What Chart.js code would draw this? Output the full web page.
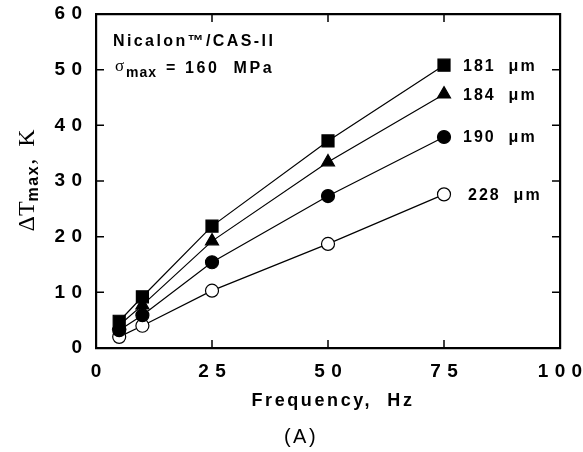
<!DOCTYPE html>
<html>
<head>
<meta charset="utf-8">
<script src="https://cdn.jsdelivr.net/npm/chart.js@4.4.0/dist/chart.umd.min.js"></script>
<style>
  html, body { margin: 0; padding: 0; background: #fff; }
  #wrap { width: 583px; height: 452px; }
</style>
</head>
<body>
<div id="wrap"><canvas id="chart" width="583" height="452"></canvas></div>
<script>
// DATA
const frequency = [5, 10, 25, 50, 75];
const dT181 = [4.8, 9.2, 21.9, 37.2, 50.8];
const dT184 = [4.1, 7.7, 19.2, 33.4, 45.6];
const dT190 = [3.2, 5.9, 15.4, 27.3, 37.9];
const dT228 = [2.0, 4.0, 10.3, 18.7, 27.6];
const seriesLabels = ["181  μm", "184  μm", "190  μm", "228  μm"];
const xTicks = [0, 25, 50, 75, 100];
const yTicks = [0, 10, 20, 30, 40, 50, 60];

const SANS = "'Liberation Sans', Arial, sans-serif";
const SERIF = "'Liberation Serif', 'Times New Roman', serif";

function pts(values) {
  return frequency.map((f, i) => ({ x: f, y: values[i] }));
}

function spaced(v) {
  return String(v).split("").join("\u2004");
}

function series(label, values, style, radius, fill) {
  return {
    label,
    data: pts(values),
    borderColor: "#000",
    borderWidth: 1.2,
    pointStyle: style,
    pointRadius: radius,
    pointBackgroundColor: fill,
    pointBorderColor: "#000",
    pointBorderWidth: 1.2,
    tension: 0,
  };
}

// keep the plot frame where the reference has it
function fixBox(size, key) {
  return (s) => {
    s[key] = size;
    s.paddingTop = 0;
    s.paddingBottom = 0;
    s.paddingLeft = 0;
    s.paddingRight = 0;
  };
}

// inward tick marks on all four sides
const inwardTicks = {
  id: "inwardTicks",
  afterDraw(chart) {
    const { ctx, chartArea: a, scales } = chart;
    const len = 8;
    ctx.save();
    ctx.strokeStyle = "#000";
    ctx.lineWidth = 1.5;
    ctx.beginPath();
    xTicks.slice(1, -1).forEach((v) => {
      const px = scales.x.getPixelForValue(v);
      ctx.moveTo(px, a.bottom);
      ctx.lineTo(px, a.bottom - len);
      ctx.moveTo(px, a.top);
      ctx.lineTo(px, a.top + len);
    });
    yTicks.slice(1, -1).forEach((v) => {
      const py = scales.y.getPixelForValue(v);
      ctx.moveTo(a.left, py);
      ctx.lineTo(a.left + len, py);
      ctx.moveTo(a.right, py);
      ctx.lineTo(a.right - len, py);
    });
    ctx.stroke();
    ctx.restore();
  },
};

function text(ctx, str, x, y, font, spacing, align) {
  ctx.font = font;
  ctx.letterSpacing = (spacing || 0) + "px";
  ctx.textAlign = align || "left";
  ctx.fillText(str, x, y);
  return x + ctx.measureText(str).width;
}

function measure(ctx, str, font, spacing) {
  ctx.font = font;
  ctx.letterSpacing = (spacing || 0) + "px";
  return ctx.measureText(str).width;
}

// titles, annotations and series labels
const annotations = {
  id: "annotations",
  afterDraw(chart) {
    const { ctx, scales } = chart;
    ctx.save();
    ctx.fillStyle = "#000";
    ctx.textBaseline = "alphabetic";

    text(ctx, "Nicalon™/CAS-II", 113, 46, "bold 16px " + SANS, 2.4);
    text(ctx, "σ", 115, 71, "17px " + SERIF, 0);
    text(ctx, "max", 126, 77, "bold 14px " + SANS, 1);
    text(ctx, "= 160  MPa", 166, 73, "bold 16px " + SANS, 2.6);

    // series labels next to last point
    const lastX = frequency[frequency.length - 1];
    const lastVals = [dT181, dT184, dT190, dT228];
    const offs = [0, 0, 0, 5];
    lastVals.forEach((vals, i) => {
      const py = scales.y.getPixelForValue(vals[vals.length - 1]);
      const px = scales.x.getPixelForValue(lastX) + 19 + offs[i];
      ctx.textBaseline = "middle";
      text(ctx, seriesLabels[i], px, py + 1, "bold 16px " + SANS, 2);
    });

    // x title and panel label
    ctx.textBaseline = "middle";
    text(ctx, "Frequency,  Hz", 333, 401, "bold 18px " + SANS, 2.6, "center");
    text(ctx, "(A)", 301, 437, "20px " + SANS, 2.5, "center");

    // y title, rotated, with subscript
    const big = "24px " + SERIF;
    const sub = "bold 16px " + SANS;
    ctx.translate(34, 179);
    ctx.rotate(-Math.PI / 2);
    ctx.textBaseline = "alphabetic";
    const total = measure(ctx, "ΔT", big, 0) + measure(ctx, "max", sub, 1.5) + measure(ctx, ", K", big, 3);
    let x0 = -total / 2;
    x0 = text(ctx, "ΔT", x0, 0, big, 0);
    x0 = text(ctx, "max", x0, 4, sub, 1.5);
    text(ctx, ", K", x0, 0, big, 3);
    ctx.restore();
  },
};

const tickFont = { family: SANS, size: 19, weight: "bold" };

const chart = new Chart(document.getElementById("chart"), {
  type: "line",
  data: {
    datasets: [
      series(seriesLabels[0], dT181, "rect", 8.5, "#000"),
      series(seriesLabels[1], dT184, "triangle", 7.5, "#000"),
      series(seriesLabels[2], dT190, "circle", 6.5, "#000"),
      series(seriesLabels[3], dT228, "circle", 6.5, "#fff"),
    ],
  },
  options: {
    responsive: false,
    animation: false,
    layout: { padding: 0 },
    plugins: { legend: { display: false }, tooltip: { enabled: false } },
    scales: {
      x: {
        type: "linear",
        position: "bottom",
        min: 0,
        max: 100,
        afterBuildTicks: (s) => { s.ticks = xTicks.map((v) => ({ value: v })); },
        afterFit: fixBox(104, "height"),
        ticks: { color: "#000", font: tickFont, padding: 12, maxRotation: 0, callback: spaced },
        grid: { drawOnChartArea: false, drawTicks: false },
        border: { color: "#000", width: 2.2 },
      },
      x2: {
        type: "linear",
        position: "top",
        min: 0,
        max: 100,
        afterFit: fixBox(14, "height"),
        ticks: { display: false },
        grid: { drawOnChartArea: false, drawTicks: false },
        border: { color: "#000", width: 2.2 },
      },
      y: {
        type: "linear",
        position: "left",
        min: 0,
        max: 60,
        afterBuildTicks: (s) => { s.ticks = yTicks.map((v) => ({ value: v })); },
        afterFit: fixBox(96, "width"),
        ticks: { color: "#000", font: tickFont, padding: 14, callback: spaced },
        grid: { drawOnChartArea: false, drawTicks: false },
        border: { color: "#000", width: 2.2 },
      },
      y2: {
        type: "linear",
        position: "right",
        min: 0,
        max: 60,
        afterFit: fixBox(23, "width"),
        ticks: { display: false },
        grid: { drawOnChartArea: false, drawTicks: false },
        border: { color: "#000", width: 2.2 },
      },
    },
  },
  plugins: [inwardTicks, annotations],
});
</script>
</body>
</html>
